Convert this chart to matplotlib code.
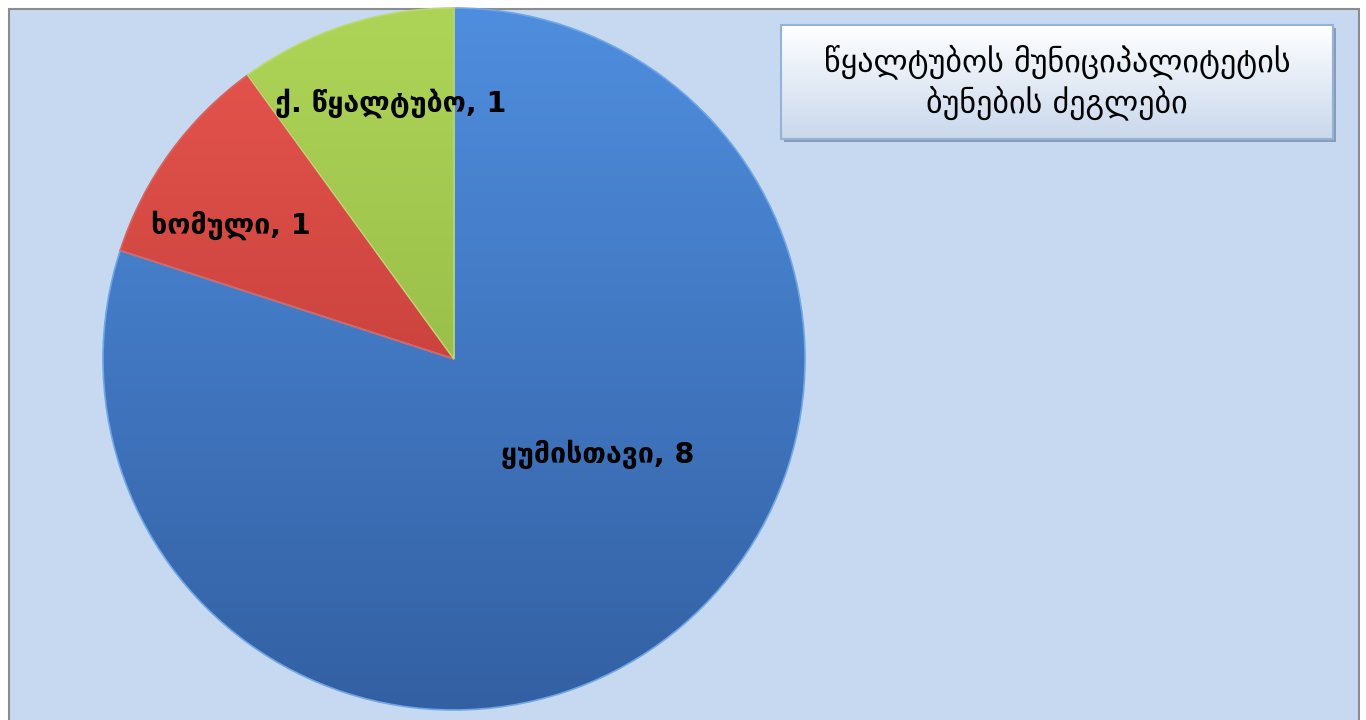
import numpy as np
import matplotlib
matplotlib.use("Agg")
import matplotlib.pyplot as plt
from matplotlib.colors import LinearSegmentedColormap
from matplotlib.patches import Rectangle

# data
categories = ["ყუმისთავი", "ხომული", "ქ. წყალტუბო"]
values = [8, 1, 1]
title = "წყალტუბოს მუნიციპალიტეტის\nბუნების ძეგლები"

# gradient colours per slice (top, bottom)
grad = [("#4F8EDE", "#3360A3"), ("#E8564F", "#B0302D"), ("#AED457", "#88AC3E")]
edge = ["#6FA6E8", "#D86460", "#B9DA6E"]
# label placement: (fraction of radius, angle offset from slice middle in deg)
label_pos = [(0.49, 20.5), (0.74, 5), (0.75, -4)]

plt.rcParams['font.family'] = ['DejaVu Sans']

W, H = 1366, 720
fig = plt.figure(figsize=(W / 100, H / 100), dpi=100)
fig.patch.set_facecolor("white")
ax = fig.add_axes([0, 0, 1, 1])

cx, cy, r = 454, 361, 351
wedges, _ = ax.pie(values, startangle=90, counterclock=False, center=(cx, cy),
                   radius=r, colors=[g[0] for g in grad], frame=True,
                   wedgeprops=dict(linewidth=1.2))
ax.set_xlim(0, W)
ax.set_ylim(0, H)
ax.set_aspect("auto")
ax.axis("off")

# chart area background with gray border
ax.add_patch(Rectangle((8.5, -5), 1350, H - 8.5 + 5, facecolor="#C6D9F0",
                       edgecolor="#8C8C8C", lw=1.5, zorder=0))

for w, (c1, c2), ec in zip(wedges, grad, edge):
    w.set_facecolor("none")
    w.set_edgecolor(ec)
    w.set_zorder(2)
    cmap = LinearSegmentedColormap.from_list("g", [c2, c1])
    img = ax.imshow(np.linspace(0, 1, 256).reshape(-1, 1), cmap=cmap,
                    extent=(cx - r, cx + r, cy - r, cy + r), origin="lower",
                    aspect="auto", zorder=1.5)
    img.set_clip_path(w)

# slice labels
for w, name, v, (f, off) in zip(wedges, categories, values, label_pos):
    mid = np.deg2rad((w.theta1 + w.theta2) / 2 + off)
    x = cx + f * r * np.cos(mid)
    y = cy + f * r * np.sin(mid)
    ax.text(x, y, f"{name}, {v}", ha="center", va="center", fontsize=20.5,
            fontweight="bold", color="black", zorder=5)

# title box with shadow and gradient
bx0, by0, bw, bh = 781, 581, 552, 114
ax.add_patch(Rectangle((bx0 + 3, by0 - 3), bw, bh, facecolor="#8A9BB5",
                       edgecolor="none", zorder=3))
box = Rectangle((bx0, by0), bw, bh, facecolor="none", edgecolor="#95B3D7",
                lw=1.5, zorder=4.5)
ax.add_patch(box)
cm_box = LinearSegmentedColormap.from_list("b", ["#C9D8EC", "#FFFFFF"])
ax.imshow(np.linspace(0, 1, 256).reshape(-1, 1), cmap=cm_box,
          extent=(bx0, bx0 + bw, by0, by0 + bh), origin="lower",
          aspect="auto", zorder=4)
ax.text(bx0 + bw / 2, by0 + bh / 2, title, ha="center", va="center",
        fontsize=23, linespacing=1.25, zorder=6)

ax.set_xlim(0, W)
ax.set_ylim(0, H)
fig.savefig("out.png", dpi=100)
